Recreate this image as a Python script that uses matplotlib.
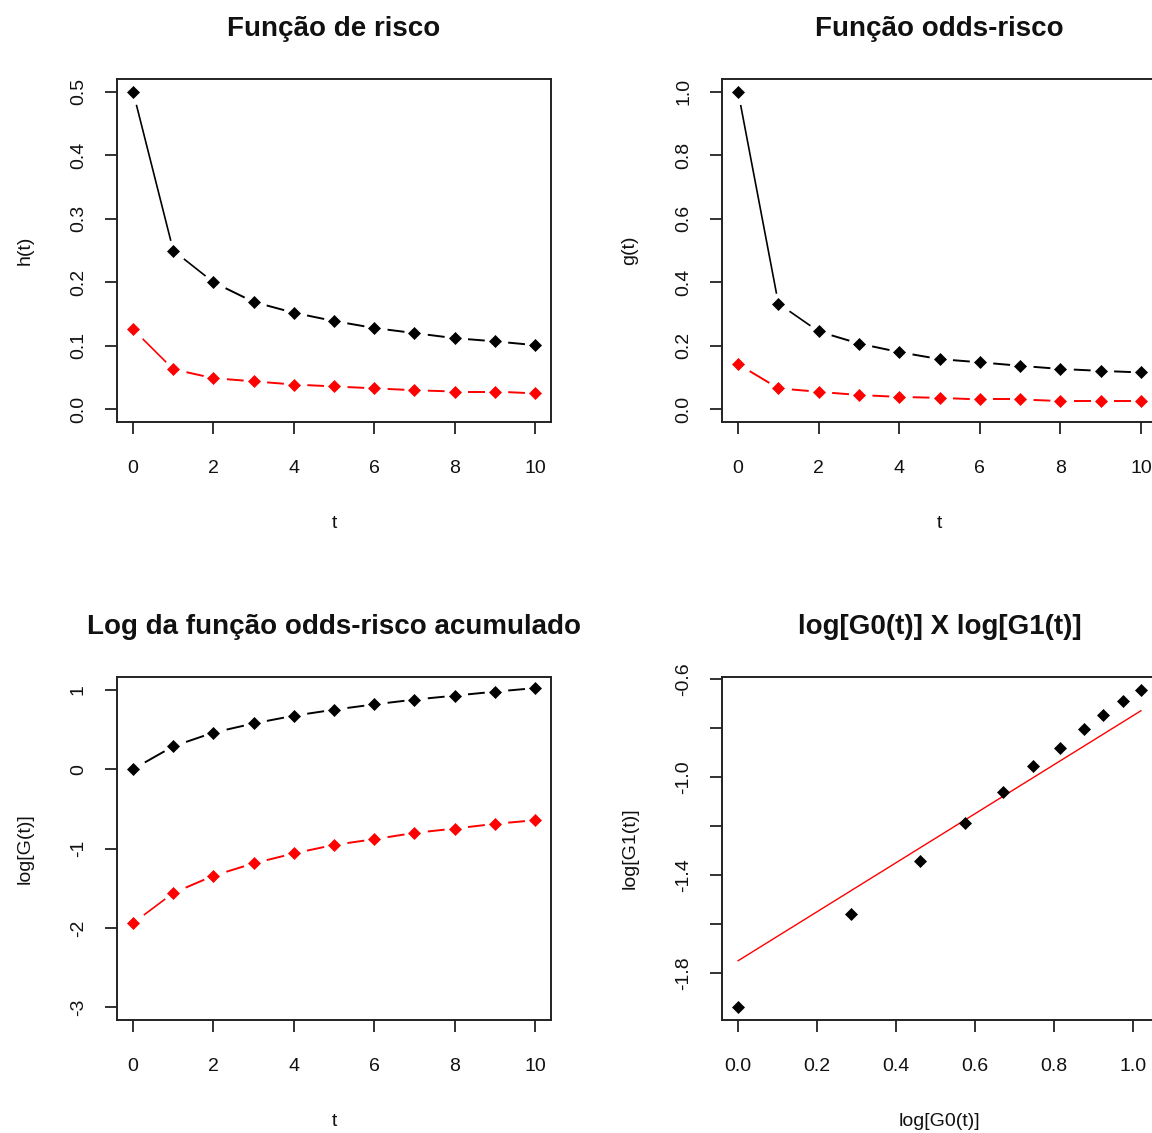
import numpy as np
import matplotlib
matplotlib.use("Agg")
import matplotlib.pyplot as plt

# ---------------- data ----------------
t = [0, 1, 2, 3, 4, 5, 6, 7, 8, 9, 10]
h0 = [0.500, 0.250, 0.200, 0.169, 0.152, 0.139, 0.128, 0.120, 0.112, 0.107, 0.101]
h1 = [0.126, 0.063, 0.049, 0.044, 0.039, 0.036, 0.033, 0.030, 0.028, 0.028, 0.025]
g0 = [1.000, 0.333, 0.245, 0.207, 0.180, 0.158, 0.148, 0.137, 0.127, 0.121, 0.116]
g1 = [0.142, 0.066, 0.055, 0.045, 0.039, 0.036, 0.031, 0.031, 0.026, 0.026, 0.026]
logG0 = [0.000, 0.287, 0.460, 0.575, 0.672, 0.748, 0.815, 0.875, 0.925, 0.975, 1.020]
logG1 = [-1.940, -1.560, -1.343, -1.187, -1.062, -0.955, -0.883, -0.804, -0.749, -0.690, -0.644]
line_intercept = -1.75
line_slope = 1.0

titles = ["Função de risco", "Função odds-risco",
          "Log da função odds-risco acumulado", "log[G0(t)] X log[G1(t)]"]
xlabels = ["t", "t", "t", "log[G0(t)]"]
ylabels = ["h(t)", "g(t)", "log[G(t)]", "log[G1(t)]"]
xticks_t = [0, 2, 4, 6, 8, 10]
yticks1 = [0.0, 0.1, 0.2, 0.3, 0.4, 0.5]
yticks2 = [0.0, 0.2, 0.4, 0.6, 0.8, 1.0]
yticks3 = [-3, -2, -1, 0, 1]
xticks4 = [0.0, 0.2, 0.4, 0.6, 0.8, 1.0]
yticks4 = [-1.8, -1.6, -1.4, -1.2, -1.0, -0.8, -0.6]
yticklabels4 = ["-1.8", "", "-1.4", "", "-1.0", "", "-0.6"]

# ---------------- style ----------------
plt.rcParams["font.family"] = ["Liberation Sans", "DejaVu Sans"]
TICK_FS = 14
TITLE_FS = 20
W, H = 1152, 1133
fig = plt.figure(figsize=(W / 100, H / 100), dpi=100)


def px_axes(l, r, top, bot):
    return fig.add_axes([l / W, 1 - bot / H, (r - l) / W, (bot - top) / H])


def rlim(lo, hi):
    d = (hi - lo) * 0.04
    return lo - d, hi + d


def style(ax, title, xl, yl):
    for s in ax.spines.values():
        s.set_linewidth(1.4)
        s.set_color("#222222")
    ax.tick_params(axis="both", direction="out", length=8.6, width=1.3,
                   color="#222222", labelsize=TICK_FS, labelcolor="#111111")
    ax.tick_params(axis="x", pad=18.5)
    ax.tick_params(axis="y", pad=13, labelrotation=90)
    for lab in ax.get_yticklabels():
        lab.set_va("center")
    ax.text(0.5, 1 + 43 / 343, title, transform=ax.transAxes, ha="center",
            va="baseline", fontsize=TITLE_FS, fontweight="bold", color="#111111")
    ax.set_xlabel(xl, fontsize=TICK_FS, color="#111111")
    ax.set_ylabel(yl, fontsize=TICK_FS, color="#111111")
    ax.xaxis.set_label_coords(0.5, -101 / 343)
    ax.xaxis.label.set_va("center")
    ax.yaxis.set_label_coords(-92 / 435, 0.5)
    ax.yaxis.label.set_va("center")


def type_b(ax, x, y, color, r0=13.5, r1=10.0, lw=1.4):
    trans = ax.transData
    inv = trans.inverted()
    pts = trans.transform(np.column_stack([x, y]))
    for i in range(len(x) - 1):
        p0, p1 = pts[i], pts[i + 1]
        d = p1 - p0
        L = np.hypot(*d)
        if L <= r0 + r1:
            continue
        u = d / L
        q = inv.transform(np.array([p0 + u * r0, p1 - u * r1]))
        ang = np.degrees(np.arctan2(abs(d[1]), abs(d[0])))
        if ang > 33:
            ax.plot(q[:, 0], q[:, 1], color=color, lw=lw * 0.85, ls="-",
                    solid_capstyle="butt", zorder=2)
        else:
            ax.plot(q[:, 0], q[:, 1], color=color, lw=lw, ls=(0, (11.8, 5.1)),
                    dash_capstyle="butt", zorder=2)
    ax.plot(x, y, ls="none", marker="D", ms=6.0, mfc=color, mec=color,
            mew=0.5, zorder=3)


ax1 = px_axes(117, 551, 79, 422)
ax2 = px_axes(722, 1157, 79, 422)
ax3 = px_axes(117, 551, 677, 1020)
ax4 = px_axes(722, 1157, 677, 1020)

# panel 1
ax1.set_xlim(*rlim(min(t), max(t)))
ax1.set_ylim(*rlim(0, 0.5))
ax1.set_xticks(xticks_t)
ax1.set_yticks(yticks1)
ax1.set_yticklabels([f"{v:.1f}" for v in yticks1])
type_b(ax1, t, h0, "black")
type_b(ax1, t, h1, "red")

# panel 2
ax2.set_xlim(*rlim(min(t), max(t)))
ax2.set_ylim(*rlim(0, 1.0))
ax2.set_xticks(xticks_t)
ax2.set_yticks(yticks2)
ax2.set_yticklabels([f"{v:.1f}" for v in yticks2])
type_b(ax2, t, g0, "black")
type_b(ax2, t, g1, "red")

# panel 3
ax3.set_xlim(*rlim(min(t), max(t)))
ax3.set_ylim(*rlim(-3, 1))
ax3.set_xticks(xticks_t)
ax3.set_yticks(yticks3)
ax3.set_yticklabels([str(v) for v in yticks3])
type_b(ax3, t, logG0, "black")
type_b(ax3, t, logG1, "red")

# panel 4
ax4.set_xlim(*rlim(min(logG0), max(logG0)))
ax4.set_ylim(*rlim(min(logG1), max(logG1)))
ax4.set_xticks(xticks4)
ax4.set_xticklabels([f"{v:.1f}" for v in xticks4])
ax4.set_yticks(yticks4)
ax4.set_yticklabels(yticklabels4)
ax4.plot(logG0, logG1, ls="none", marker="D", ms=6.0, mfc="black", mec="black",
         mew=0.5, zorder=3)
lx = np.array([min(logG0), max(logG0)])
ax4.plot(lx, line_intercept + line_slope * lx, color="red", lw=1.0, zorder=2)

for ax, ti, xl, yl in zip([ax1, ax2, ax3, ax4], titles, xlabels, ylabels):
    style(ax, ti, xl, yl)

fig.savefig("out.png", dpi=100)
